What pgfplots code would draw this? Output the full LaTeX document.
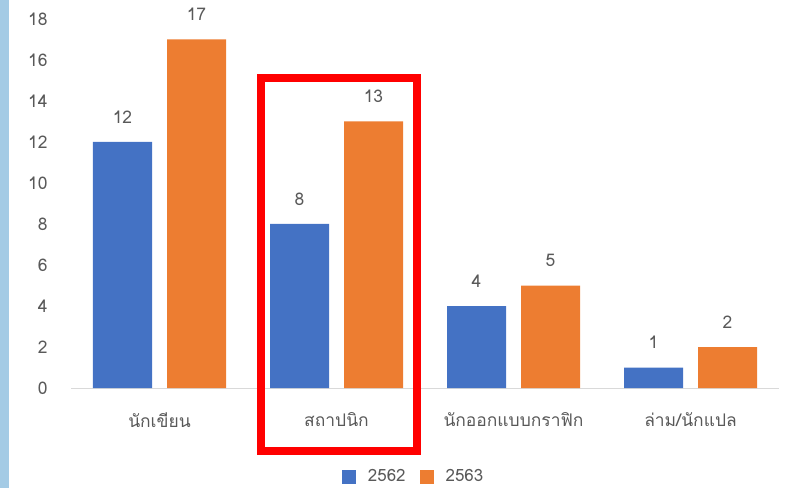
\documentclass[border=0pt]{standalone}
\usepackage{pgfplots}
\pgfplotsset{compat=1.18}
\usepackage{fontspec}
\setmainfont{Loma}[Script=Thai]
\definecolor{bblue}{HTML}{4472C4}
\definecolor{borange}{HTML}{ED7D31}
\definecolor{tgray}{HTML}{595959}
\definecolor{strip}{HTML}{A4CBE5}
\begin{document}
\begin{tikzpicture}
\useasboundingbox (-71bp,-100bp) rectangle (715bp,388bp);
\fill[strip] (-71bp,-100bp) rectangle (-62bp,388bp);
\begin{axis}[
  at={(0,0)}, anchor=south west,
  scale only axis,
  width=708bp, height=369bp,
  ymin=0, ymax=18,
  xmin=-0.5, xmax=3.5,
  ytick={0,2,...,18},
  xtick={0,1,2,3},
  xticklabels={นักเขียน,สถาปนิก,นักออกแบบกราฟิก,ล่าม/นักแปล},
  ybar=15bp, bar width=59bp,
  axis x line*=bottom, axis y line*=left,
  x axis line style={-, draw=gray!30, line width=1bp},
  y axis line style={draw=none},
  tick style={draw=none},
  major tick length=0pt,
  /pgf/number format/assume math mode=true,
  tick label style={font=\fontsize{17.5}{20}\selectfont, text=tgray},
  yticklabel style={anchor=east, xshift=-20bp},
  xticklabel style={yshift=-21bp},
  nodes near coords,
  every node near coord/.append style={font=\fontsize{17.5}{20}\selectfont, text=tgray, yshift=15bp},
  clip=false,
  legend style={at={(0.484,-0.24)}, anchor=center, draw=none, legend columns=2,
    inner sep=0pt,
    font=\fontsize{17}{20}\selectfont, text=tgray,
    nodes={inner ysep=0pt},
    /tikz/every odd column/.append style={column sep=10bp},
    /tikz/every even column/.append style={column sep=12bp}},
  legend image code/.code={\fill[#1] (0bp,-7bp) rectangle (14bp,7bp);},
]
\addplot[fill=bblue, draw=none] coordinates {(0,12) (1,8) (2,4) (3,1)};
\addplot[fill=borange, draw=none] coordinates {(0,17) (1,13) (2,5) (3,2)};
\legend{2562,2563}
\draw[red, line width=8bp] (axis cs:0.573,15.12) rectangle (axis cs:1.455,-3.07);
\end{axis}
\end{tikzpicture}
\end{document}
